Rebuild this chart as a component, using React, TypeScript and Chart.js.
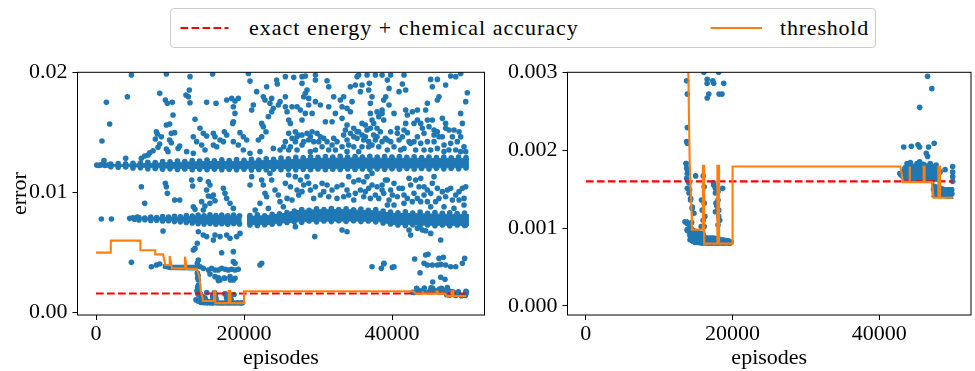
import React, { useEffect, useRef } from 'react';
import { Chart, registerables } from 'chart.js';
Chart.register(...registerables);

// Units in the arrays below: episodes in hundreds, error in 1e-5.
const X_TICKS = [0, 20000, 40000];
const LEFT_Y_TICKS = [0, 0.01, 0.02];
const RIGHT_Y_TICKS = [0, 0.001, 0.002, 0.003];

const EXACT_LINE = [[0, 160], [500, 160]];

const THRESHOLD = [
  [0, 500], [20, 500], [20, 600], [60, 600], [60, 520], [80, 520], [80, 485], [90.6, 485],
  [93.7, 397], [99.2, 397], [99.6, 472], [102.7, 369], [120, 369], [120.3, 466], [122.5, 365],
  [136, 365], [139.7, 300], [141.5, 187], [144.2, 119], [144.5, 98], [159.5, 98], [159.5, 180],
  [161.3, 180], [161.3, 80], [179.3, 80], [179.3, 180], [181.6, 180], [181.6, 80], [200, 80],
  [200, 179], [428.8, 179], [432.4, 159], [441, 159], [441, 179], [441.8, 179], [441.8, 159],
  [460.5, 159], [460.5, 179], [461.7, 179], [461.7, 159], [471.6, 159], [473.9, 139],
  [480.6, 139], [480.6, 179], [482.9, 179], [482.9, 139], [500, 139],
];

// dense cores (lower / upper envelopes, through the dot centres)
const BAND_HIGH_LOWER = [[0.5, 1222], [10, 1221], [30, 1218], [55, 1212], [80, 1205], [115, 1200], [200, 1198], [300, 1200], [400, 1203], [504, 1206]];
const BAND_HIGH_UPPER = [[0.5, 1230], [10, 1232], [30, 1234], [55, 1238], [80, 1244], [115, 1252], [150, 1258], [200, 1260], [250, 1270], [300, 1285], [350, 1288], [400, 1286], [450, 1284], [504, 1282]];
const BAND_MID_A_LOWER = [[53, 778], [80, 772], [113, 762], [140, 742], [170, 738], [197, 740]];
const BAND_MID_A_UPPER = [[53, 786], [80, 790], [113, 795], [140, 806], [170, 806], [197, 804]];
const BAND_MID_B_LOWER = [[204, 735], [230, 731], [255, 748], [280, 760], [340, 763], [380, 760], [400, 735], [450, 728], [504, 728]];
const BAND_MID_B_UPPER = [[204, 802], [230, 807], [255, 827], [270, 850], [300, 857], [340, 857], [380, 847], [400, 827], [450, 822], [504, 817]];
const BAND_38_LOWER = [[90, 372], [100, 358], [138, 355]];
const BAND_38_UPPER = [[90, 400], [100, 395], [138, 395]];
const BAND_LOW_LOWER = [[138, 92], [142, 82], [147, 79], [160, 78], [180, 78], [199, 78]];
const BAND_LOW_UPPER = [[138, 112], [142, 108], [147, 100], [152, 97], [160, 95], [165, 90], [175, 90], [185, 88], [197, 86], [199, 84]];
const BAND_R1_LOWER = [[429, 165], [433, 160], [480, 160]];
const BAND_R1_UPPER = [[429, 172], [433, 180], [445, 182], [460, 183], [470, 182], [480, 180]];
const BAND_R2_LOWER = [[471, 140], [501, 138]];
const BAND_R2_UPPER = [[471, 158], [480, 155], [490, 152], [501, 152]];

// dots along the ragged edges of the dense bands
const EDGE_HIGH_TOP = [
  [20, 1236], [30, 1240], [40, 1238], [50, 1244], [60, 1246], [70, 1252], [80, 1250], [90, 1258], [100, 1255],
  [110, 1262], [120, 1258], [130, 1266], [140, 1262], [150, 1270], [160, 1264], [170, 1272], [180, 1266],
  [190, 1274], [200, 1268], [210, 1276], [220, 1270], [230, 1280], [240, 1276], [250, 1286], [260, 1280],
  [270, 1292], [280, 1288], [290, 1298], [300, 1292], [310, 1300], [320, 1294], [330, 1302], [340, 1296],
  [350, 1300], [360, 1294], [370, 1302], [380, 1296], [390, 1300], [400, 1294], [410, 1300], [420, 1292],
  [430, 1298], [440, 1290], [450, 1296], [460, 1290], [470, 1296], [480, 1288], [490, 1294], [500, 1290],
];
const EDGE_HIGH_BOTTOM = [
  [20, 1214], [30, 1210], [40, 1212], [50, 1204], [60, 1206], [70, 1198], [80, 1200], [90, 1194], [100, 1197],
  [110, 1192], [120, 1195], [130, 1190], [140, 1194], [150, 1190], [160, 1194], [170, 1189], [180, 1193],
  [190, 1189], [200, 1193], [210, 1188], [220, 1192], [230, 1189], [240, 1194], [250, 1190], [260, 1194],
  [270, 1189], [280, 1193], [290, 1190], [300, 1195], [310, 1190], [320, 1194], [330, 1191], [340, 1195],
  [350, 1191], [360, 1196], [370, 1192], [380, 1197], [390, 1193], [400, 1198], [410, 1194], [420, 1199],
  [430, 1195], [440, 1200], [450, 1196], [460, 1201], [470, 1197], [480, 1202], [490, 1198], [500, 1203],
];
const EDGE_MID_TOP = [
  [58, 792], [66, 788], [74, 796], [82, 792], [90, 800], [98, 795], [106, 802], [114, 798], [122, 808],
  [130, 804], [138, 812], [146, 806], [154, 814], [162, 808], [170, 812], [178, 806], [186, 812], [194, 806],
  [208, 808], [218, 814], [228, 806], [238, 818], [248, 822], [258, 834], [268, 846], [278, 858], [288, 852],
  [298, 864], [308, 858], [318, 866], [328, 858], [338, 864], [348, 856], [358, 862], [368, 852], [378, 858],
  [388, 846], [398, 838], [408, 832], [418, 840], [428, 830], [438, 838], [448, 828], [458, 834], [468, 826],
  [478, 832], [488, 824], [498, 830],
];
const EDGE_MID_BOTTOM = [
  [58, 772], [66, 774], [74, 768], [82, 770], [90, 764], [98, 766], [106, 758], [114, 756], [122, 750],
  [130, 746], [138, 740], [146, 738], [154, 742], [162, 736], [170, 740], [178, 736], [186, 742], [194, 738],
  [208, 730], [218, 726], [228, 732], [238, 736], [248, 742], [258, 750], [268, 756], [278, 752], [288, 762],
  [298, 756], [308, 764], [318, 758], [328, 766], [338, 760], [348, 766], [358, 758], [368, 764], [378, 756],
  [388, 746], [398, 738], [408, 730], [418, 726], [428, 732], [438, 724], [448, 730], [458, 724], [468, 730],
  [478, 724], [488, 730], [498, 726],
];

const POINTS_EARLY = [
  [47.8, 1977], [95.1, 1986], [14, 1750], [42.4, 1797], [86.1, 1825], [93.7, 1769], [96.4, 1742],
  [103.2, 1750], [104.1, 1645], [18.5, 1570], [8.1, 1428], [81.6, 1506], [82.9, 1487], [80.2, 1445],
  [88.3, 1464], [95.1, 1561], [99.6, 1570], [101.8, 1492], [106.3, 1498], [99.6, 1437], [101.8, 1414],
  [86.1, 1403], [83.8, 1376], [95.1, 1362], [97.3, 1340], [110.9, 1367], [113.1, 1387], [72.6, 1331],
  [77.1, 1348], [61.3, 1284], [65.8, 1304], [70.3, 1312], [40.1, 1284], [10.8, 1265], [61.3, 1048],
  [93.7, 1076], [95.1, 1048], [96.4, 993], [65.8, 910], [106.3, 938], [113.1, 938], [7.2, 780],
  [20.8, 780], [45.5, 785], [55.9, 795], [90.6, 680], [47.8, 419], [74.8, 383], [81.6, 397], [86.1, 405],
  [1, 1228], [4, 1226], [7, 1230], [12, 1225], [16, 1229], [50, 790], [52, 778],
];

const POINTS_A = [
  [157.6, 1986], [205.9, 1991], [127, 1964], [126.1, 1853], [121.6, 1811], [124.8, 1797], [127, 1747],
  [149.5, 1750], [176.6, 1769], [183.3, 1783], [187.8, 1761], [192.3, 1783], [185.6, 1714], [187.8, 1658],
  [185.6, 1589], [184.7, 1575], [133.8, 1609], [162.2, 1742], [210.4, 1686], [212.6, 1728], [208.1, 1927],
  [217.1, 1839], [230.6, 1880], [244.1, 1936], [245, 1903], [226.1, 1797], [228.4, 1769], [235.1, 1742],
  [237.4, 1783], [232.9, 1631], [237.4, 1672], [239.6, 1700], [223.9, 1575], [226.1, 1548], [229.7, 1506],
  [219.4, 1437], [223.9, 1464], [248.7, 1756], [246.4, 1728], [194.6, 1498], [199.1, 1464], [203.6, 1437],
  [173.4, 1506], [176.6, 1478], [158.6, 1492], [160.8, 1464], [140.5, 1534], [145, 1492], [149.5, 1470],
  [131.5, 1464], [136, 1423], [142.8, 1395], [167.6, 1437], [172.1, 1423], [185.6, 1423], [192.3, 1395],
  [158.6, 1395], [163.1, 1381], [147.3, 1353], [122.5, 1340], [131.5, 1326], [199.1, 1353], [208.1, 1326],
  [221.6, 1340], [239.6, 1367], [248.7, 1353],
  [129.3, 1104], [130.6, 1054], [140.5, 1110], [151.8, 1090], [154, 1062], [149.5, 1021], [151.8, 971],
  [156.3, 965], [158.6, 979], [172.1, 1035], [174.3, 993], [176.6, 951], [181.1, 910], [185.6, 868],
  [160.8, 932], [154, 910], [147.3, 888], [142.8, 924], [145, 854], [131.5, 882], [133.8, 860],
  [210.4, 1132], [208.1, 1062], [223.9, 1104], [226.1, 1062], [235.1, 1159], [237.4, 1104], [228.4, 993],
  [230.6, 965], [241.9, 1021], [246.4, 979], [248.7, 924], [253.2, 882], [221.6, 910], [215.1, 854], [232.9, 868],
  [138.3, 674], [145, 646], [149.5, 633], [158.6, 605], [160.8, 646], [167.6, 633], [176.6, 646],
  [181.1, 619], [190.1, 633], [194.6, 660], [131.5, 522], [133.8, 535], [136.9, 577], [169.8, 499],
  [185.6, 508], [185.6, 425], [187.8, 411], [138.3, 438], [136.9, 411],
  [140.5, 383], [145, 369], [151.8, 355], [156.3, 369], [160.8, 355], [165.3, 355], [169.8, 369],
  [174.3, 361], [178.8, 355], [183.3, 361], [187.8, 355], [192.3, 361], [154, 322], [160.8, 300],
  [167.6, 272], [174.3, 286], [181.1, 300], [185.6, 272], [165.3, 286], [221.6, 397], [223.9, 411],
  [137, 330], [138, 310],
];

const POINTS_B = [
  [255.9, 1964], [267.2, 1958], [278.4, 1964], [282.9, 1969], [296.5, 1977], [296.5, 1936], [312.2, 1930],
  [314.5, 1880], [278.4, 1908], [285.2, 1853], [282.9, 1825], [280.7, 1797], [276.2, 1686], [271.7, 1714],
  [264.9, 1714], [255.9, 1797], [255.9, 1714], [258.2, 1672], [260.4, 1603], [262.7, 1575], [287.4, 1783],
  [296.5, 1756], [303.2, 1728], [314.5, 1714], [321.2, 1797], [330.2, 1769], [334.7, 1797], [332.5, 1714],
  [339.2, 1700], [343.8, 1672], [346, 1756], [343.8, 1880], [350.5, 1894], [352.8, 1964], [355, 1977],
  [359.5, 1894], [357.3, 1839], [366.3, 1977], [368.5, 1853], [369.4, 1908], [370.8, 1742], [373, 1797],
  [377.5, 1977], [386.6, 1977], [388.8, 1769], [386.6, 1686], [379.8, 1672], [382.1, 1631], [373, 1603],
  [370.8, 1658], [359.5, 1575], [352.8, 1506], [348.3, 1534], [339.2, 1561], [332.5, 1617], [323.5, 1658],
  [319, 1589], [310, 1589], [292, 1658], [287.4, 1728], [282.9, 1658], [278.4, 1603], [269.4, 1506],
  [271.7, 1464], [278.4, 1478], [285.2, 1492], [292, 1506], [298.7, 1492], [303.2, 1464], [294.2, 1423],
  [287.4, 1437], [280.7, 1423], [269.4, 1423], [260.4, 1492], [255.9, 1423], [253.7, 1381], [262.7, 1381],
  [271.7, 1353], [296.5, 1353], [305.5, 1381], [312.2, 1423], [321.2, 1451], [325.7, 1423], [334.7, 1478],
  [337, 1520], [348.3, 1464], [355, 1506], [359.5, 1478], [361.8, 1437], [366.3, 1520], [370.8, 1534],
  [375.3, 1478], [377.5, 1437], [382.1, 1381], [386.6, 1423], [391.1, 1451], [388.8, 1603], [386.6, 1658],
  [348.3, 1381], [332.5, 1381], [319, 1395], [314.5, 1353], [323.5, 1353], [341.5, 1395], [359.5, 1381],
  [368.5, 1381], [373, 1395],
  [273.9, 1478], [289.7, 1464], [301, 1423], [307.7, 1451], [278.4, 1395], [264.9, 1451], [339.2, 1437],
  [343.8, 1492], [352.8, 1451], [364, 1464], [368.5, 1423], [379.8, 1464], [384.3, 1506], [364, 1561],
  [375.3, 1575], [379.8, 1534], [355, 1340], [339.2, 1340], [289.7, 1340], [260.4, 1353],
  [255.9, 1076], [260.4, 1146], [269.4, 1132], [276.2, 1104], [280.7, 1062], [285.2, 1132], [287.4, 1076],
  [271.7, 1021], [273.9, 979], [264.9, 938], [258.2, 951], [296.5, 1048], [305.5, 1076], [312.2, 1062],
  [319, 1021], [314.5, 965], [303.2, 979], [294.2, 951], [332.5, 1062], [341.5, 1132], [348.3, 1090],
  [355, 1104], [361.8, 1090], [357.3, 1021], [350.5, 993], [341.5, 979], [334.7, 965], [325.7, 951],
  [368.5, 1035], [373, 1062], [379.8, 1048], [386.6, 1062], [388.8, 993], [382.1, 951], [370.8, 951],
  [361.8, 965], [391.1, 1104], [366.3, 1132], [373, 1159],
  [262.7, 1048], [278.4, 1007], [289.7, 1021], [307.7, 1007], [325.7, 1048], [339.2, 1021], [364, 1007],
  [377.5, 979], [386.6, 1021], [348.3, 938],
  [269.4, 716], [295.6, 633], [332.5, 688], [339.2, 674], [373, 383], [385.6, 369], [388.8, 405],
];

const POINTS_C = [
  [398.2, 1977], [393.7, 1936], [396, 1866], [409.5, 1839], [414, 1903], [418.5, 1853], [416.2, 1977],
  [452.3, 1941], [461.3, 1941], [454.5, 1880], [472.5, 1894], [479.3, 1969], [486.1, 1964], [492.8, 1991],
  [501.8, 1830], [499.6, 1756], [492.8, 1658], [463.5, 1797], [461.3, 1769], [447.8, 1742], [445.5, 1686],
  [434.3, 1686], [427.5, 1672], [418.5, 1686], [420.7, 1645], [402.7, 1658], [396, 1728], [391.5, 1797],
  [418.5, 1575], [416.2, 1520], [407.2, 1534], [407.2, 1492], [398.2, 1506], [393.7, 1437], [409.5, 1437],
  [420.7, 1498], [423, 1423], [429.7, 1575], [434.3, 1603], [438.8, 1575], [441, 1534], [447.8, 1603],
  [454.5, 1603], [450, 1548], [456.8, 1520], [456.8, 1478], [461.3, 1506], [468, 1617], [472.5, 1575],
  [472.5, 1534], [477, 1520], [483.8, 1520], [490.6, 1506], [492.8, 1464], [495.1, 1575], [468, 1464],
  [456.8, 1423], [447.8, 1423], [438.8, 1409], [429.7, 1423], [425.2, 1409], [470.3, 1395], [479.3, 1409],
  [486.1, 1353], [497.3, 1381], [499.6, 1340], [477, 1353], [461.3, 1367], [452.3, 1353], [443.3, 1353],
  [402.7, 1381], [411.7, 1353], [393.7, 1353], [416.2, 1367],
  [398.2, 1423], [414, 1464], [434.3, 1464], [443.3, 1492], [463.5, 1464], [481.6, 1464], [488.3, 1423],
  [432, 1353], [470.3, 1340], [492.8, 1340],
  [393.7, 1104], [402.7, 1076], [409.5, 1035], [398.2, 1021], [407.2, 965], [396, 938], [416.2, 979],
  [423, 1118], [425.2, 1062], [432, 1104], [438.8, 1118], [436.5, 1048], [429.7, 993], [420.7, 951],
  [434.3, 951], [443.3, 979], [447.8, 1021], [454.5, 1076], [456.8, 1132], [461.3, 1035], [468, 1007],
  [463.5, 951], [472.5, 965], [479.3, 1035], [486.1, 979], [495.1, 1035], [497.3, 951], [490.6, 938],
  [481.6, 938], [459, 924], [447.8, 924], [438.8, 924], [427.5, 924], [416.2, 910], [402.7, 896],
  [393.7, 896], [497.3, 896], [483.8, 868], [470.3, 882], [452.3, 882],
  [400.5, 979], [414, 1035], [443.3, 1048], [452.3, 993], [474.8, 1021], [490.6, 1007], [499.6, 1048],
  [423, 688], [425.2, 646], [434.3, 702], [441, 688], [445.5, 682], [452.3, 660], [465.8, 605], [499.6, 730],
  [389.2, 411], [400.5, 377], [402.7, 383], [430.6, 447], [437.9, 333], [443.3, 411], [445.5, 480],
  [447.8, 397], [448.7, 486], [454.5, 397], [461.3, 397], [463.5, 452], [465.8, 402], [469.4, 461],
  [472.5, 397], [479.3, 383], [486.1, 383], [495.1, 411], [498.2, 452],
];

const POINTS_LOW = [
  [137.4, 289], [138.3, 272], [138.3, 229], [137.4, 211], [138.3, 209], [136.5, 183], [137.4, 177],
  [138.3, 170], [137.4, 164], [138.3, 151], [140.6, 145], [142.8, 138], [145.1, 127], [147.4, 119],
  [144.2, 107], [138.3, 98], [138.3, 106], [165.4, 291], [173, 289], [187.9, 286], [165.4, 267],
  [181.6, 272], [160, 167], [161.3, 153], [161.3, 132], [162.2, 115], [161.3, 102], [174.4, 155],
  [176.6, 151], [180.2, 147], [181.1, 123], [176.6, 121], [182.5, 110], [186.5, 151], [180.2, 136],
  [177.5, 132], [137, 183], [138.3, 175], [140.5, 158], [141.4, 149], [142.8, 136], [145, 125],
  [135.1, 108], [138.3, 97], [157.6, 136], [158.6, 123], [159.9, 110], [157.2, 102], [174.3, 158],
  [176.6, 145], [178.8, 128], [181.1, 115], [180.2, 104], [149.6, 167],
  [142, 85], [146, 83], [150, 82], [154, 82], [158, 81], [163, 82], [167, 81], [171, 81], [175, 82],
  [179, 81], [183, 82], [187, 81], [191, 82], [195, 81], [198, 82], [141, 100], [145, 96], [150, 95],
  [155, 93], [160, 92],
];

const POINTS_RIGHT = [
  [465.8, 295], [471.6, 279], [455, 255], [433.3, 204], [443.7, 205], [452.7, 207], [455, 204],
  [467.1, 204], [474.8, 209], [464, 196], [465.8, 192], [455, 185], [489.7, 175], [500, 179],
  [500, 172], [500, 166], [500, 160], [498.7, 149], [428, 170], [429.7, 168], [437.8, 183],
  [442.4, 184], [451.4, 183], [460.4, 182], [469.4, 183], [477.5, 181], [480.6, 175], [482.9, 172],
  [474, 150], [478, 145], [486, 143], [494, 141], [499, 144],
];

const BLUE = '#1f77b4';
const FONT = "'Liberation Serif', 'Times New Roman', serif";

const toXY = (arr: number[][]) => arr.map(([x, y]) => ({ x: x * 100, y: y * 1e-5 }));

function buildDatasets(): any[] {
  const ds: any[] = [];
  const bands = [
    [BAND_HIGH_LOWER, BAND_HIGH_UPPER],
    [BAND_MID_A_LOWER, BAND_MID_A_UPPER],
    [BAND_MID_B_LOWER, BAND_MID_B_UPPER],
    [BAND_38_LOWER, BAND_38_UPPER],
    [BAND_LOW_LOWER, BAND_LOW_UPPER],
    [BAND_R1_LOWER, BAND_R1_UPPER],
    [BAND_R2_LOWER, BAND_R2_UPPER],
  ];
  for (const [lo, up] of bands) {
    ds.push({ data: toXY(lo), borderWidth: 1, borderColor: BLUE, backgroundColor: BLUE, pointRadius: 0, fill: false, order: 3 });
    ds.push({ data: toXY(up), borderWidth: 1, borderColor: BLUE, backgroundColor: BLUE, pointRadius: 0, fill: '-1', order: 3 });
  }
  const pts = [
    ...EDGE_HIGH_TOP, ...EDGE_HIGH_BOTTOM, ...EDGE_MID_TOP, ...EDGE_MID_BOTTOM,
    ...POINTS_EARLY, ...POINTS_A, ...POINTS_B, ...POINTS_C, ...POINTS_LOW, ...POINTS_RIGHT,
  ];
  ds.push({
    data: toXY(pts), showLine: false, pointRadius: 2.8, pointBackgroundColor: BLUE,
    pointBorderWidth: 0, backgroundColor: BLUE, borderColor: BLUE, order: 2,
  });
  ds.push({
    data: toXY(EXACT_LINE), borderColor: '#ff0000', borderWidth: 2.1, borderDash: [7.7, 3.3],
    pointRadius: 0, fill: false, order: 1,
  });
  ds.push({
    data: toXY(THRESHOLD), borderColor: '#ff7f0e', borderWidth: 2.1, pointRadius: 0,
    fill: false, order: 0, borderJoinStyle: 'miter',
  });
  return ds;
}

const framePlugin = {
  id: 'frame',
  afterDatasetsDraw(chart: any) {
    const { ctx, chartArea: a } = chart;
    ctx.save();
    ctx.strokeStyle = '#000';
    ctx.lineWidth = 1;
    ctx.strokeRect(a.left, a.top, a.right - a.left, a.bottom - a.top);
    ctx.restore();
  },
};

function makeOptions(yMin: number, yMax: number, yTicks: number[], decimals: number, yTitle: string | null, padRight: number): any {
  return {
    animation: false,
    responsive: false,
    events: [],
    layout: { padding: { top: 22.3, right: padRight, bottom: 0, left: 0 } },
    plugins: { legend: { display: false }, tooltip: { enabled: false } },
    scales: {
      x: {
        type: 'linear', min: -2500, max: 52500,
        afterBuildTicks: (s: any) => { s.ticks = X_TICKS.map((v) => ({ value: v })); },
        afterFit: (s: any) => { s.height = 56; },
        ticks: { callback: (v: any) => String(v), font: { size: 22, family: FONT }, color: '#000', padding: 1, maxRotation: 0, autoSkip: false },
        grid: { drawOnChartArea: false, drawTicks: true, tickLength: 5, tickColor: '#000', tickWidth: 1 },
        border: { display: false },
        title: { display: true, text: 'episodes', font: { size: 22, family: FONT }, color: '#000', padding: { top: 0, bottom: 0 } },
      },
      y: {
        type: 'linear', min: yMin, max: yMax,
        afterBuildTicks: (s: any) => { s.ticks = yTicks.map((v) => ({ value: v })); },
        afterFit: (s: any) => { s.width = 77.5; },
        ticks: { callback: (v: any) => Number(v).toFixed(decimals), font: { size: 22, family: FONT }, color: '#000', padding: 5, autoSkip: false },
        grid: { drawOnChartArea: false, drawTicks: true, tickLength: 5, tickColor: '#000', tickWidth: 1 },
        border: { display: false },
        title: { display: !!yTitle, text: yTitle || '', font: { size: 22, family: FONT }, color: '#000', padding: { top: 6.8, bottom: 0 } },
      },
    },
  };
}

function Panel(props: { left: number; width: number; yMin: number; yMax: number; yTicks: number[]; decimals: number; yTitle: string | null; padRight: number }) {
  const ref = useRef<HTMLCanvasElement>(null);
  useEffect(() => {
    if (!ref.current) return;
    const chart = new Chart(ref.current, {
      type: 'line',
      data: { datasets: buildDatasets() },
      options: makeOptions(props.yMin, props.yMax, props.yTicks, props.decimals, props.yTitle, props.padRight),
      plugins: [framePlugin],
    } as any);
    return () => chart.destroy();
  }, []);
  return (
    <canvas
      ref={ref}
      width={props.width}
      height={321}
      style={{ position: 'absolute', left: props.left, top: 50, width: props.width, height: 321 }}
    />
  );
}

export default function App() {
  const textStyle: React.CSSProperties = {
    position: 'absolute', fontFamily: FONT, fontSize: 22, lineHeight: '22px', color: '#000', whiteSpace: 'nowrap',
  };
  return (
    <div style={{ position: 'absolute', left: 0, top: 0, width: 975, height: 371, background: '#fff', overflow: 'hidden' }}>
      <Panel left={0} width={490} yMin={-0.00019} yMax={0.02} yTicks={LEFT_Y_TICKS} decimals={2} yTitle="error" padRight={5.5} />
      <Panel left={490} width={485} yMin={-0.000116} yMax={0.003} yTicks={RIGHT_Y_TICKS} decimals={3} yTitle={null} padRight={0.5} />
      <div style={{ position: 'absolute', left: 170, top: 8, width: 706, height: 40, boxSizing: 'border-box', border: '1px solid #cccccc', borderRadius: 4, background: 'rgba(255,255,255,0.8)' }} />
      <svg style={{ position: 'absolute', left: 180, top: 22 }} width={50} height={12}>
        <line x1={0.5} y1={6} x2={48.5} y2={6} stroke="#ff0000" strokeWidth={2.1} strokeDasharray="7.7 3.3" />
      </svg>
      <span style={{ ...textStyle, left: 249, top: 16.5, letterSpacing: '1px' }}>exact energy + chemical accuracy</span>
      <svg style={{ position: 'absolute', left: 710, top: 22 }} width={54} height={12}>
        <line x1={0.5} y1={6} x2={52} y2={6} stroke="#ff7f0e" strokeWidth={2.1} />
      </svg>
      <span style={{ ...textStyle, left: 780, top: 16.5, letterSpacing: '0.8px' }}>threshold</span>
    </div>
  );
}
